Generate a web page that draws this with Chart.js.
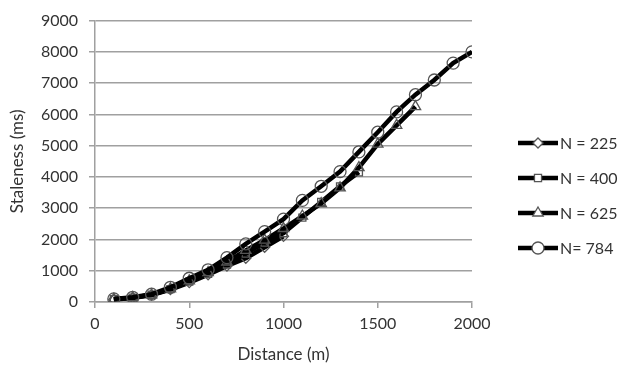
<!DOCTYPE html>
<html>
<head>
<meta charset="utf-8">
<script src="https://cdn.jsdelivr.net/npm/chart.js@4.4.1/dist/chart.umd.min.js"></script>
<style>
  html, body { margin: 0; padding: 0; background: #fff; }
  #wrap { width: 618px; height: 370px; position: relative; }
</style>
</head>
<body>
<div id="wrap"><canvas id="c" width="618" height="370"></canvas></div>
<script>
// Staleness vs distance, one series per node count
const distance = [100, 200, 300, 400, 500, 600, 700, 800, 900, 1000, 1100, 1200, 1300, 1400, 1500, 1600, 1700, 1800, 1900, 2000];

const n225 = [80, 130, 220, 400, 620, 870, 1150, 1400, 1750, 2100];
const n400 = [90, 140, 230, 410, 650, 900, 1200, 1550, 1900, 2200, 2700, 3200, 3700, 4150];
const n625 = [90, 140, 230, 420, 680, 940, 1280, 1650, 1980, 2350, 2750, 3150, 3650, 4300, 5050, 5650, 6250];
const n784 = [100, 150, 250, 470, 760, 1030, 1420, 1860, 2250, 2650, 3250, 3700, 4170, 4800, 5430, 6080, 6630, 7100, 7640, 8000];

const seriesNames = ['N = 225', 'N = 400', 'N = 625', 'N= 784'];
const seriesData = [n225, n400, n625, n784];
const markers = ['rectRot', 'rect', 'triangle', 'circle'];
const markerSizes = [5, 5, 6, 6];

const xTicks = [0, 500, 1000, 1500, 2000];
const yTicks = [0, 1000, 2000, 3000, 4000, 5000, 6000, 7000, 8000, 9000];

const FONT = 'Lato, "Open Sans", sans-serif';
const TEXT = '#333';
const GRID = '#a0a0a0';

const toPoints = vals => vals.map((v, i) => ({ x: distance[i], y: v }));

const datasets = seriesData.map((vals, i) => ({
  label: seriesNames[i],
  data: toPoints(vals),
  showLine: true,
  borderColor: '#000',
  borderWidth: 4.5,
  pointStyle: markers[i],
  pointRadius: markerSizes[i],
  pointBorderColor: '#555',
  pointBorderWidth: 1.3,
  pointBackgroundColor: 'rgba(255,255,255,0)',
  order: 3 - i
}));

// legend with line + marker samples, drawn on the right
const sideLegend = {
  id: 'sideLegend',
  afterDraw(chart) {
    const ctx = chart.ctx;
    const rows = [143, 178, 213, 248];
    ctx.save();
    seriesNames.forEach((name, i) => {
      const y = rows[i];
      ctx.strokeStyle = '#000';
      ctx.lineWidth = 4.5;
      ctx.beginPath();
      ctx.moveTo(518, y);
      ctx.lineTo(558, y);
      ctx.stroke();
      ctx.fillStyle = '#fff';
      ctx.strokeStyle = '#555';
      ctx.lineWidth = 1.3;
      Chart.helpers.drawPoint(ctx, { pointStyle: markers[i], radius: markerSizes[i], borderWidth: 1.3 }, 538, y);
      ctx.fillStyle = TEXT;
      ctx.font = '16px ' + FONT;
      ctx.textBaseline = 'middle';
      ctx.textAlign = 'left';
      ctx.fillText(name, 560, y + 1);
    });
    ctx.restore();
  }
};

new Chart(document.getElementById('c'), {
  type: 'scatter',
  data: { datasets },
  options: {
    responsive: false,
    animation: false,
    layout: { padding: { top: 17, right: 146, bottom: 0, left: 0 } },
    plugins: { legend: { display: false }, tooltip: { enabled: false } },
    scales: {
      x: {
        type: 'linear',
        min: 0,
        max: 2000,
        afterBuildTicks: s => { s.ticks = xTicks.map(v => ({ value: v })); },
        afterFit: s => { s.height = 68; },
        grid: { drawOnChartArea: false, color: GRID, lineWidth: 1.5, tickLength: 6 },
        border: { color: GRID, width: 1.5 },
        ticks: { color: TEXT, font: { family: FONT, size: 16 }, padding: 6, maxRotation: 0, callback: v => String(v) },
        title: { display: true, text: 'Distance (m)', color: TEXT, font: { family: FONT, size: 17 }, padding: { top: 0, bottom: 5 } }
      },
      y: {
        type: 'linear',
        min: 0,
        max: 9000,
        afterBuildTicks: s => { s.ticks = yTicks.map(v => ({ value: v })); },
        afterFit: s => { s.width = 95; },
        grid: { color: GRID, lineWidth: 1.5, tickLength: 6 },
        border: { color: GRID, width: 1.5 },
        ticks: { color: TEXT, font: { family: FONT, size: 16 }, padding: 11, callback: v => String(v) },
        title: { display: true, text: 'Staleness (ms)', color: TEXT, font: { family: FONT, size: 17 }, padding: { top: 7, bottom: 0 } }
      }
    }
  },
  plugins: [sideLegend]
});
</script>
</body>
</html>
